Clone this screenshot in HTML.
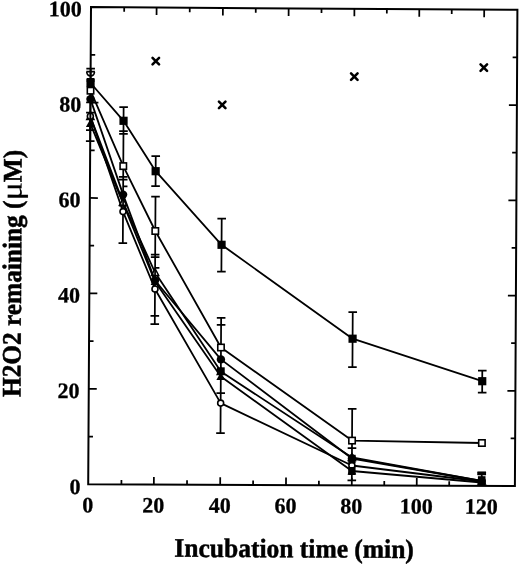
<!DOCTYPE html>
<html><head><meta charset="utf-8"><title>H2O2 remaining vs incubation time</title>
<style>html,body{margin:0;padding:0;background:#fff}svg{display:block}text{font-family:"Liberation Serif","DejaVu Serif",serif;font-weight:bold;fill:#000}</style></head><body>
<svg width="520" height="564" viewBox="0 0 520 564">
<rect width="520" height="564" fill="#fff"/>
<polygon points="91.0,7.1 517.4,9.8 514.9,486.05 88.2,484.3" fill="none" stroke="#000" stroke-width="2.0" stroke-linejoin="miter"/>
<path d="M121.42 484.44l0.02 -4.50M124.20 7.31l-0.02 4.50M153.85 484.57l0.04 -7.60M156.60 7.52l-0.04 7.60M187.02 484.71l0.02 -4.50M189.75 7.73l-0.02 4.50M220.19 484.84l0.04 -7.60M222.90 7.94l-0.04 7.60M253.09 484.98l0.02 -4.50M255.77 8.14l-0.02 4.50M285.99 485.11l0.04 -7.60M288.65 8.35l-0.04 7.60M318.89 485.25l0.02 -4.50M321.52 8.56l-0.02 4.50M351.78 485.38l0.04 -7.60M354.40 8.77l-0.04 7.60M384.26 485.51l0.02 -4.50M386.85 8.97l-0.02 4.50M416.73 485.65l0.04 -7.60M419.30 9.18l-0.04 7.60M449.20 485.78l0.02 -4.50M451.75 9.38l-0.02 4.50M481.68 485.91l0.04 -7.60M484.20 9.59l-0.04 7.60M88.48 436.58l4.50 0.02M515.15 438.43l-4.50 -0.02M88.76 388.86l8.00 0.04M515.40 390.80l-8.00 -0.04M89.04 341.14l4.50 0.02M515.65 343.18l-4.50 -0.02M89.32 293.42l8.00 0.04M515.90 295.55l-8.00 -0.04M89.60 245.70l4.50 0.02M516.15 247.93l-4.50 -0.02M89.88 197.98l8.00 0.04M516.40 200.30l-8.00 -0.04M90.16 150.26l4.50 0.02M516.65 152.68l-4.50 -0.02M90.44 102.54l8.00 0.04M516.90 105.05l-8.00 -0.04M90.72 54.82l4.50 0.02M517.15 57.43l-4.50 -0.02" stroke="#000" stroke-width="1.75" fill="none"/>
<text transform="translate(87.70 512.30) rotate(0.3)" font-size="22" text-anchor="middle" stroke="#000" stroke-width="0.3">0</text>
<text transform="translate(153.35 512.57) rotate(0.3)" font-size="22" text-anchor="middle" stroke="#000" stroke-width="0.3">20</text>
<text transform="translate(219.69 512.84) rotate(0.3)" font-size="22" text-anchor="middle" stroke="#000" stroke-width="0.3">40</text>
<text transform="translate(285.49 513.11) rotate(0.3)" font-size="22" text-anchor="middle" stroke="#000" stroke-width="0.3">60</text>
<text transform="translate(351.28 513.38) rotate(0.3)" font-size="22" text-anchor="middle" stroke="#000" stroke-width="0.3">80</text>
<text transform="translate(416.23 513.65) rotate(0.3)" font-size="22" text-anchor="middle" stroke="#000" stroke-width="0.3">100</text>
<text transform="translate(481.18 513.91) rotate(0.3)" font-size="22" text-anchor="middle" stroke="#000" stroke-width="0.3">120</text>
<text transform="translate(80.60 494.00) rotate(0.3)" font-size="22" text-anchor="end" stroke="#000" stroke-width="0.3">0</text>
<text transform="translate(79.46 398.06) rotate(0.3)" font-size="22" text-anchor="end" stroke="#000" stroke-width="0.3">20</text>
<text transform="translate(80.02 302.62) rotate(0.3)" font-size="22" text-anchor="end" stroke="#000" stroke-width="0.3">40</text>
<text transform="translate(80.58 207.18) rotate(0.3)" font-size="22" text-anchor="end" stroke="#000" stroke-width="0.3">60</text>
<text transform="translate(81.14 111.74) rotate(0.3)" font-size="22" text-anchor="end" stroke="#000" stroke-width="0.3">80</text>
<text transform="translate(81.70 16.30) rotate(0.3)" font-size="22" text-anchor="end" stroke="#000" stroke-width="0.3">100</text>
<polyline points="90.32,123.70 123.06,203.20 155.02,281.50 220.81,376.50 351.86,471.00 481.70,482.50" fill="none" stroke="#000" stroke-width="1.8" stroke-linejoin="round"/>
<polyline points="90.36,116.60 123.06,202.40 155.07,272.50 220.84,371.50 351.94,457.50 481.70,481.00" fill="none" stroke="#000" stroke-width="1.8" stroke-linejoin="round"/>
<path d="M90.32 119.10L94.72 127.10H85.92Z" fill="#000"/>
<path d="M123.06 198.60L127.46 206.60H118.66Z" fill="#000"/>
<path d="M155.02 276.90L159.42 284.90H150.62Z" fill="#000"/>
<path d="M220.81 371.90L225.21 379.90H216.41Z" fill="#000"/>
<path d="M351.86 466.40L356.26 474.40H347.46Z" fill="#000"/>
<path d="M481.70 477.90L486.10 485.90H477.30Z" fill="#000"/>
<path d="M90.36 112.80L93.96 119.50H86.76Z" fill="#fff" stroke="#000" stroke-width="1.5"/>
<path d="M123.06 198.60L126.66 205.30H119.46Z" fill="#fff" stroke="#000" stroke-width="1.5"/>
<path d="M155.07 268.70L158.67 275.40H151.47Z" fill="#fff" stroke="#000" stroke-width="1.5"/>
<path d="M220.84 367.70L224.44 374.40H217.24Z" fill="#fff" stroke="#000" stroke-width="1.5"/>
<path d="M351.94 453.70L355.54 460.40H348.34Z" fill="#fff" stroke="#000" stroke-width="1.5"/>
<path d="M481.70 477.20L485.30 483.90H478.10Z" fill="#fff" stroke="#000" stroke-width="1.5"/>
<polyline points="90.36,116.20 123.01,211.60 154.98,289.00 220.66,403.10 351.89,465.50 481.70,481.50" fill="none" stroke="#000" stroke-width="1.8" stroke-linejoin="round"/>
<polyline points="90.46,99.10 123.11,194.60 155.02,280.50 220.90,359.40 351.93,458.50 481.70,481.00" fill="none" stroke="#000" stroke-width="1.8" stroke-linejoin="round"/>
<polyline points="90.51,90.70 123.28,166.10 155.31,231.00 220.97,347.50 352.03,440.60 481.90,443.00" fill="none" stroke="#000" stroke-width="1.8" stroke-linejoin="round"/>
<polyline points="90.55,83.00 123.54,120.80 155.66,171.20 221.55,244.80 352.59,338.70 482.23,381.20" fill="none" stroke="#000" stroke-width="1.8" stroke-linejoin="round"/>
<path d="M90.64 68.70L90.21 141.00M86.34 68.70h8.6M86.32 71.70h8.6M86.14 102.30h8.6M86.08 112.50h8.6M85.98 130.10h8.6M85.91 141.00h8.6M123.62 107.20L122.83 243.20M119.32 107.20h8.6M119.18 131.10h8.6M119.16 133.90h8.6M118.91 176.80h8.6M118.90 179.50h8.6M118.53 243.20h8.6M123.16 186.30h4.3M155.74 156.20L155.57 186.20M155.51 196.50L154.77 324.20M151.44 156.20h8.6M151.27 186.20h8.6M151.21 196.50h8.6M150.87 254.50h8.6M150.86 257.20h8.6M150.52 315.80h8.6M150.47 324.20h8.6M155.10 267.80h4.3M221.70 218.50L221.40 271.50M221.14 317.90L220.49 433.20M217.40 218.50h8.6M217.10 271.50h8.6M216.84 317.90h8.6M216.80 324.80h8.6M216.41 393.20h8.6M216.19 433.20h8.6M352.74 312.00L352.43 367.20M352.20 408.90L351.81 480.40M348.44 312.00h8.6M348.13 367.20h8.6M347.90 408.90h8.6M347.69 448.20h8.6M347.51 480.40h8.6M482.29 370.50L482.17 392.50M481.75 472.30L481.69 484.00M477.99 370.50h8.6M477.87 392.50h8.6M477.45 472.30h8.6M477.44 474.40h8.6" stroke="#000" stroke-width="1.75" fill="none"/>
<circle cx="90.36" cy="116.20" r="3.0" fill="#fff" stroke="#000" stroke-width="1.6"/>
<circle cx="123.01" cy="211.60" r="3.0" fill="#fff" stroke="#000" stroke-width="1.6"/>
<circle cx="154.98" cy="289.00" r="3.0" fill="#fff" stroke="#000" stroke-width="1.6"/>
<circle cx="220.66" cy="403.10" r="3.0" fill="#fff" stroke="#000" stroke-width="1.6"/>
<circle cx="351.89" cy="465.50" r="3.0" fill="#fff" stroke="#000" stroke-width="1.6"/>
<circle cx="481.70" cy="481.50" r="3.0" fill="#fff" stroke="#000" stroke-width="1.6"/>
<circle cx="90.46" cy="99.10" r="4.2" fill="#000"/>
<circle cx="123.11" cy="194.60" r="4.2" fill="#000"/>
<circle cx="155.02" cy="280.50" r="4.2" fill="#000"/>
<circle cx="220.90" cy="359.40" r="4.2" fill="#000"/>
<circle cx="351.93" cy="458.50" r="4.2" fill="#000"/>
<circle cx="481.70" cy="481.00" r="4.2" fill="#000"/>
<rect x="87.31" y="87.50" width="6.4" height="6.4" fill="#fff" stroke="#000" stroke-width="1.6"/>
<rect x="120.08" y="162.90" width="6.4" height="6.4" fill="#fff" stroke="#000" stroke-width="1.6"/>
<rect x="152.11" y="227.80" width="6.4" height="6.4" fill="#fff" stroke="#000" stroke-width="1.6"/>
<rect x="217.77" y="344.30" width="6.4" height="6.4" fill="#fff" stroke="#000" stroke-width="1.6"/>
<rect x="348.83" y="437.40" width="6.4" height="6.4" fill="#fff" stroke="#000" stroke-width="1.6"/>
<rect x="478.70" y="439.80" width="6.4" height="6.4" fill="#fff" stroke="#000" stroke-width="1.6"/>
<rect x="86.45" y="78.90" width="8.2" height="8.2" fill="#000"/>
<rect x="119.44" y="116.70" width="8.2" height="8.2" fill="#000"/>
<rect x="151.56" y="167.10" width="8.2" height="8.2" fill="#000"/>
<rect x="217.45" y="240.70" width="8.2" height="8.2" fill="#000"/>
<rect x="348.49" y="334.60" width="8.2" height="8.2" fill="#000"/>
<rect x="478.13" y="377.10" width="8.2" height="8.2" fill="#000"/>
<rect x="86.67" y="78.00" width="7.8" height="4" fill="#000"/>
<rect x="348.23" y="454.80" width="7.4" height="8.6" fill="#000"/>
<rect x="348.16" y="467.00" width="7.4" height="8.0" fill="#000"/>
<rect x="216.94" y="367.30" width="7.8" height="7.0" fill="#000"/>
<rect x="477.91" y="476.20" width="7.6" height="9.2" fill="#000"/>
<rect x="477.44" y="471.90" width="8.6" height="3.0" fill="#000"/>
<path d="M86.72 71.90Q87.02 75.90 90.62 75.90Q94.22 75.90 94.52 71.90" fill="none" stroke="#000" stroke-width="1.5"/>
<path d="M90.39 111.50L90.27 131.00" stroke="#000" stroke-width="2.0" fill="none"/>
<path d="M152.55 57.80L159.05 64.30M152.55 64.30L159.05 57.80" stroke="#000" stroke-width="2.6" stroke-linecap="round" fill="none"/>
<path d="M218.95 101.55L225.45 108.05M218.95 108.05L225.45 101.55" stroke="#000" stroke-width="2.6" stroke-linecap="round" fill="none"/>
<path d="M351.05 73.45L357.55 79.95M351.05 79.95L357.55 73.45" stroke="#000" stroke-width="2.6" stroke-linecap="round" fill="none"/>
<path d="M480.55 64.45L487.05 70.95M480.55 70.95L487.05 64.45" stroke="#000" stroke-width="2.6" stroke-linecap="round" fill="none"/>
<text transform="translate(294.1 557.4) rotate(0.3) scale(0.952 1)" font-size="26.8" text-anchor="middle" stroke="#000" stroke-width="0.5">Incubation time (min)</text>
<text transform="translate(21.1 273.4) rotate(-89.7) scale(0.945 1)" font-size="26.8" text-anchor="middle" stroke="#000" stroke-width="0.5">H2O2 remaining (<tspan font-weight="normal" font-size="30" stroke-width="0.2" textLength="19.5" lengthAdjust="spacingAndGlyphs">μ</tspan>M)</text>
</svg></body></html>
